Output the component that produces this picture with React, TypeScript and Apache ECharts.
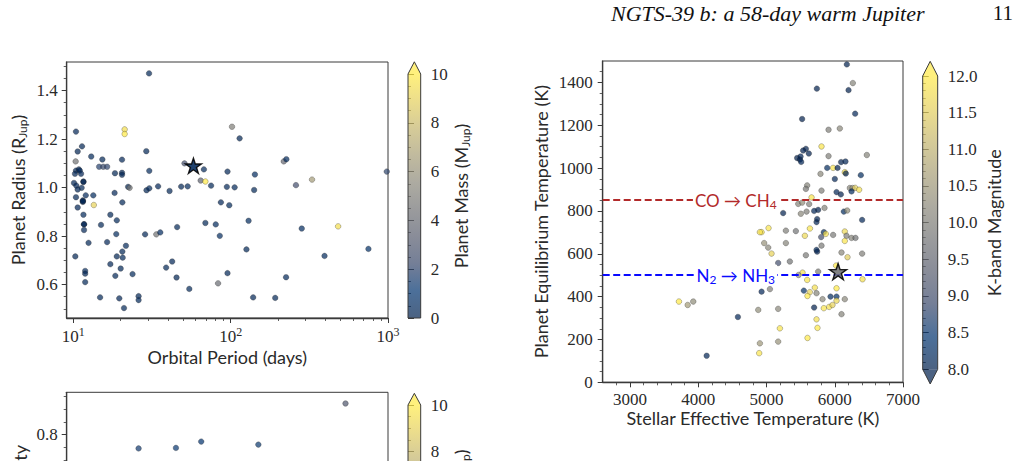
import React, { useEffect, useRef } from "react";
import * as echarts from "echarts";

// ---- Data -------------------------------------------------------------
// Warm-giant comparison sample: [orbital period (d), radius (R_Jup), mass (M_Jup)]
const periodRadiusMass: [number, number, number][] = [
  [30.3, 1.471, 0.3], [10.4, 1.231, 0.25], [21.2, 1.24, 9.5], [21.2, 1.221, 10.5],
  [29.1, 1.15, 0.3], [10.66, 1.149, 0.2], [11.36, 1.17, 0.2], [13.0, 1.128, 0.4],
  [10.35, 1.108, 4.5], [15.3, 1.116, 0.3], [14.6, 1.086, 1.8], [15.5, 1.086, 2.2],
  [16.4, 1.086, 2.0], [20.4, 1.115, 0.25], [10.4, 1.07, 0.3], [10.85, 1.075, 0.15],
  [11.0, 1.07, 0.35], [10.25, 1.057, 0.2], [11.2, 1.057, 0.25], [18.4, 1.059, 0.2],
  [20.4, 1.061, 0.3], [20.4, 1.053, 0.15], [30.4, 1.069, 0.45], [50.9, 1.1, 2.5],
  [67.6, 1.075, 0.4], [95.5, 1.066, 0.3], [114, 1.203, 0.2], [102, 1.251, 5.0],
  [10.1, 1.019, 0.2], [11.6, 1.025, 0.1], [11.6, 1.023, 0.05], [10.45, 1.008, 0.25],
  [11.3, 0.999, 0.3], [10.66, 0.992, 0.2], [10.4, 0.96, 0.2], [12.0, 0.968, 0.35],
  [13.4, 0.968, 0.5], [22.3, 1.003, 0.3], [22.8, 0.999, 4.5], [29.2, 0.989, 0.3],
  [30.4, 0.997, 0.4], [34.6, 1.005, 0.25], [40.9, 0.986, 0.3], [48.5, 1.004, 0.2],
  [53.3, 1.005, 0.35], [18.3, 0.978, 0.25], [64.5, 1.029, 3.5], [69.1, 1.025, 10.0],
  [75.1, 1.008, 0.3], [94.6, 1.003, 0.3], [106, 1.001, 0.4], [142.6, 1.054, 0.55],
  [217.6, 1.108, 3.8], [226, 1.117, 0.45], [982, 1.066, 2.0], [141, 0.99, 0.3],
  [260, 1.01, 2.5], [329, 1.033, 6.5], [11.5, 0.947, 0.1], [11.5, 0.941, 0.1],
  [11.5, 0.944, 0.15], [13.5, 0.928, 9.0], [10.66, 0.918, 0.25], [20.5, 0.939, 0.3],
  [11.6, 0.888, 0.4], [17.2, 0.888, 0.3], [18.9, 0.865, 0.35], [11.7, 0.848, 0.05],
  [11.7, 0.849, 0.1], [11.7, 0.825, 0.25], [15.0, 0.846, 0.3], [18.75, 0.808, 0.45],
  [28.6, 0.807, 0.3], [33.7, 0.807, 4.5], [35.7, 0.815, 0.6], [45.7, 0.837, 0.3],
  [10.3, 0.716, 0.2], [12.5, 0.772, 0.3], [16.4, 0.775, 0.25], [21.6, 0.76, 0.35],
  [20.5, 0.736, 0.3], [20.6, 0.711, 0.4], [18.9, 0.716, 0.2], [17.2, 0.684, 0.25],
  [20.0, 0.666, 0.3], [11.9, 0.656, 0.45], [11.9, 0.645, 0.2], [11.9, 0.61, 0.3],
  [18.5, 0.636, 0.3], [23.8, 0.643, 0.4], [42.5, 0.695, 0.25], [38.9, 0.67, 0.3],
  [45.3, 0.629, 0.2], [54.6, 0.582, 0.35], [14.8, 0.547, 0.3], [19.6, 0.543, 0.25],
  [26.0, 0.552, 0.3], [26.0, 0.536, 0.4], [21.0, 0.503, 0.3], [69.1, 0.854, 0.3],
  [80.4, 0.848, 0.45], [85.3, 0.801, 0.55], [86.7, 0.939, 0.25], [98.0, 0.927, 0.4],
  [83.2, 0.605, 4.0], [95.5, 0.647, 0.3], [126, 0.745, 0.3], [130, 0.863, 0.5],
  [139, 0.547, 0.25], [192, 0.545, 0.3], [225, 0.63, 0.4], [283, 0.831, 0.55],
  [482, 0.84, 9.5], [395, 0.718, 0.45], [751, 0.747, 0.8],
];

// [orbital period (d), eccentricity, mass (M_Jup)]
const periodEccMass: [number, number, number][] = [
  [26, 0.745, 1.4], [44.9, 0.747, 1.2], [65, 0.772, 1.0], [150, 0.76, 1.3], [537, 0.922, 3.0],
];

// [stellar Teff (K), planet Teq (K), K-band magnitude]
const teffTeqKmag: [number, number, number][] = [
  [3717, 377, 12.0], [3845, 361, 10.6], [3927, 377, 10.3], [4123, 124, 8.1], [4581, 305, 8.1],
  [4928, 701, 12.1], [4903, 701, 11.8], [5030, 720, 11.9], [4966, 650, 10.4], [5025, 629, 10.2],
  [5074, 601, 11.6], [5284, 708, 10.0], [5430, 706, 9.8], [5284, 650, 10.1], [5562, 684, 11.7],
  [5636, 718, 11.9], [5577, 593, 9.9], [5733, 748, 8.1], [5742, 762, 8.0], [5840, 701, 8.2],
  [5869, 693, 11.8], [5801, 678, 9.0], [5806, 638, 9.9], [5733, 618, 8.2], [5742, 610, 8.0],
  [5976, 688, 9.9], [6147, 704, 11.7], [6172, 684, 10.0], [6147, 660, 11.9], [6246, 674, 10.1],
  [6304, 674, 9.8], [6099, 606, 10.2], [6187, 584, 11.5], [6401, 601, 10.0], [6401, 758, 8.1],
  [5342, 564, 9.8], [5757, 517, 9.9], [5528, 512, 11.8], [5470, 501, 10.3], [5596, 478, 11.9],
  [6407, 481, 11.8], [4928, 423, 8.1], [5050, 435, 10.0], [5547, 428, 8.3], [5635, 421, 11.6],
  [5600, 403, 12.0], [5708, 442, 11.8], [5733, 416, 10.1], [5821, 388, 10.2], [5938, 400, 8.2],
  [6026, 439, 12.0], [6026, 400, 8.3], [6026, 381, 11.7], [6147, 388, 10.2], [5698, 349, 8.0],
  [5840, 346, 11.9], [5918, 352, 11.8], [5967, 361, 11.6], [6099, 318, 10.1], [5733, 294, 11.8],
  [5747, 254, 12.0], [5171, 343, 10.2], [4879, 338, 10.3], [5196, 252, 11.9], [5171, 190, 10.4],
  [4903, 182, 10.5], [4893, 136, 11.9], [5601, 207, 12.1], [6020, 545, 12.0], [5244, 790, 8.0],
  [5503, 787, 10.2], [5587, 797, 10.0], [5698, 800, 8.1], [5757, 805, 8.0], [5850, 814, 10.1],
  [6133, 797, 8.2], [6182, 802, 10.3], [5465, 833, 10.1], [5523, 839, 10.3], [5625, 832, 10.0],
  [5660, 863, 11.9], [6026, 888, 8.1], [6089, 877, 8.0], [6221, 907, 10.2], [6260, 907, 10.4],
  [6299, 908, 11.5], [6357, 899, 11.8], [6246, 891, 8.2], [5806, 895, 10.0], [5596, 919, 10.1],
  [5577, 903, 9.9], [6001, 949, 8.1], [6382, 967, 8.2], [6147, 981, 11.8], [6162, 975, 8.0],
  [5791, 973, 10.2], [6093, 1028, 8.0], [6157, 1031, 8.1], [5889, 1001, 8.2], [5976, 1001, 11.9],
  [6041, 1001, 8.0], [6470, 1061, 10.1], [5909, 1056, 10.0], [5620, 1068, 8.0], [5449, 1047, 7.9],
  [5499, 1054, 8.1], [5490, 1040, 8.0], [5508, 1029, 8.1], [5577, 1090, 8.0], [5537, 1082, 8.0],
  [5806, 1101, 11.9], [5909, 1179, 10.0], [6074, 1185, 10.2], [5522, 1229, 8.0], [6299, 1254, 8.1],
  [5738, 1371, 8.0], [6202, 1364, 7.9], [6265, 1397, 10.1], [6177, 1484, 7.9], [5171, 557, 9.0],
];

// NGTS-39 b
const ngts39bPeriodRadiusMass: [number, number, number] = [58.0, 1.09, 0.4];
const ngts39bTeffTeqKmag: [number, number, number] = [6049, 517, 9.8];

// Chemical transition temperatures (K) and where their labels sit along Teff
const coCh4Teq = 850;
const n2Nh3Teq = 500;
const transitionLabelTeff = 4550;

// Axis ranges and tick values
const periodRange = [9.08, 1000];
const periodMajorTicks = [10, 100, 1000];
const periodMinorTicks = [20, 30, 40, 50, 60, 70, 80, 90, 200, 300, 400, 500, 600, 700, 800, 900];
const radiusRange = [0.462, 1.518];
const radiusTicks = [0.6, 0.8, 1.0, 1.2, 1.4];
const eccRange = [-0.046, 0.966];
const eccTicks = [0, 0.2, 0.4, 0.6, 0.8];
const teffRange = [2600, 7000];
const teffTicks = [3000, 4000, 5000, 6000, 7000];
const teqRange = [0, 1500];
const teqTicks = [0, 200, 400, 600, 800, 1000, 1200, 1400];
const massRange = [0, 10];
const kmagRange = [8, 12];

// ---- Styling ----------------------------------------------------------
const SERIF = '"Liberation Serif", "Times New Roman", serif';
const SANS = 'Lato, "Liberation Sans", "DejaVu Sans", sans-serif';
const INK = "#2a2a2a";
const FRAME = "#3a3a3a";
const RED = "#b22a2a";
const BLUE = "#0a0aff";
const ALPHA = 0.7;

// cividis sampled at 10 evenly spaced points
const CIVIDIS = ["#00204d", "#00336f", "#39486b", "#575c6d", "#707173", "#8a8779", "#a69d75", "#c4b56c", "#e4cf5b", "#ffea46"];

function hexToRgb(h: string) {
  return [parseInt(h.slice(1, 3), 16), parseInt(h.slice(3, 5), 16), parseInt(h.slice(5, 7), 16)];
}
function cividis(t: number) {
  const c = Math.max(0, Math.min(1, t)) * (CIVIDIS.length - 1);
  const i = Math.min(CIVIDIS.length - 2, Math.floor(c));
  const f = c - i;
  const a = hexToRgb(CIVIDIS[i]);
  const b = hexToRgb(CIVIDIS[i + 1]);
  const m = a.map((v, k) => Math.round(v + (b[k] - v) * f));
  return `rgb(${m[0]},${m[1]},${m[2]})`;
}

const STAR =
  "path://M0,-1 L0.2245,-0.309 L0.951,-0.309 L0.363,0.118 L0.588,0.809 L0,0.382 L-0.588,0.809 L-0.363,0.118 L-0.951,-0.309 L-0.2245,-0.309 Z";

const plainNumber = (v: number) => String(v);
const tickLabel = { fontFamily: SERIF, fontSize: 17, color: INK };
const axisLine = { show: true, lineStyle: { color: FRAME, width: 1.3 } };
const majorTick = { show: true, length: 5, lineStyle: { color: FRAME, width: 1 } };
const minorTickStyle = (splitNumber: number) => ({
  show: true,
  splitNumber,
  length: 3,
  lineStyle: { color: FRAME, width: 0.8 },
});
const nameStyle = {
  fontFamily: SANS,
  fontSize: 18,
  color: INK,
  rich: { sub: { fontFamily: SANS, fontSize: 12, color: INK, padding: [9, 0, 0, 0] } },
};
const logLabelFormatter = (v: number) => `{b|10}{p|${Math.round(Math.log10(v))}}`;
const logLabelRich = {
  b: { fontFamily: SERIF, fontSize: 17, color: INK },
  p: { fontFamily: SERIF, fontSize: 12, color: INK, padding: [0, 0, 9, 0] },
};

// Colorbar drawn on its own small cartesian grid so it follows that grid's value axis
function colorbarSeries(xIndex: number, yIndex: number, vmin: number, vmax: number, extendLow: boolean) {
  return {
    type: "custom",
    xAxisIndex: xIndex,
    yAxisIndex: yIndex,
    silent: true,
    clip: false,
    data: [[0, vmin]],
    renderItem: (_params: any, api: any) => {
      const a = api.coord([0, vmax]);
      const b = api.coord([1, vmin]);
      const x0 = a[0];
      const x1 = b[0];
      const yTop = a[1];
      const yBot = b[1];
      const ext = (yBot - yTop) * 0.05;
      const mid = (x0 + x1) / 2;
      const stops = CIVIDIS.map((c, i) => ({ offset: 1 - i / (CIVIDIS.length - 1), color: c })).reverse();
      const children: any[] = [
        {
          type: "rect",
          shape: { x: x0, y: yTop, width: x1 - x0, height: yBot - yTop },
          style: { fill: new echarts.graphic.LinearGradient(0, 0, 0, 1, stops), opacity: ALPHA },
        },
        {
          type: "polygon",
          shape: { points: [[x0, yTop], [x1, yTop], [mid, yTop - ext]] },
          style: { fill: cividis(1), opacity: ALPHA },
        },
      ];
      const outline: number[][] = [[x0, yBot], [x0, yTop], [mid, yTop - ext], [x1, yTop], [x1, yBot]];
      if (extendLow) {
        children.push({
          type: "polygon",
          shape: { points: [[x0, yBot], [x1, yBot], [mid, yBot + ext]] },
          style: { fill: cividis(0), opacity: ALPHA },
        });
        outline.push([mid, yBot + ext]);
      }
      children.push({
        type: "polygon",
        shape: { points: outline },
        style: { fill: "none", stroke: FRAME, lineWidth: 1 },
      });
      return { type: "group", children };
    },
  };
}

function scatterSeries(xi: number, yi: number, data: number[][], vmin: number, vmax: number) {
  return {
    type: "scatter",
    xAxisIndex: xi,
    yAxisIndex: yi,
    data,
    symbolSize: 5.6,
    silent: true,
    itemStyle: {
      color: (p: any) => cividis((p.value[2] - vmin) / (vmax - vmin)),
      opacity: ALPHA,
      borderColor: "#222",
      borderWidth: 0.4,
    },
  };
}

function starSeries(xi: number, yi: number, point: number[], vmin: number, vmax: number, size: number) {
  return {
    type: "scatter",
    xAxisIndex: xi,
    yAxisIndex: yi,
    z: 6,
    data: [point],
    symbol: STAR,
    symbolKeepAspect: true,
    symbolSize: size,
    silent: true,
    itemStyle: {
      color: cividis((point[2] - vmin) / (vmax - vmin)),
      opacity: 0.88,
      borderColor: "#000",
      borderWidth: 1.4,
    },
  };
}

// Dashed transition line across the panel
function transitionLine(level: number, color: string) {
  return {
    type: "line",
    xAxisIndex: 4,
    yAxisIndex: 2,
    z: 3,
    silent: true,
    data: [],
    markLine: {
      silent: true,
      symbol: "none",
      data: [{ yAxis: level }],
      lineStyle: { color, type: [7, 3.5], width: 2, opacity: 1 },
      label: { show: false },
    },
  };
}

// Boxed label sitting on top of a transition line
function transitionLabel(level: number, color: string, text: string) {
  return {
    type: "scatter",
    xAxisIndex: 4,
    yAxisIndex: 2,
    z: 20,
    silent: true,
    symbolSize: 0,
    itemStyle: { opacity: 1 },
    data: [[transitionLabelTeff, level]],
    label: {
      show: true,
      position: "inside",
      formatter: text,
      backgroundColor: "#fff",
      opacity: 1,
      padding: [0, 2, 0, 2],
      rich: {
        t: { fontFamily: SANS, fontSize: 17, color },
        s: { fontFamily: SANS, fontSize: 12, color, padding: [9, 0, 0, 0] },
      },
    },
  };
}

function massColorbarAxis(gridIndex: number) {
  return {
    gridIndex,
    type: "value",
    position: "right",
    min: massRange[0],
    max: massRange[1],
    interval: 2,
    axisLine: { show: false },
    axisTick: { ...majorTick, length: 6 },
    minorTick: minorTickStyle(4),
    axisLabel: { ...tickLabel, formatter: plainNumber, margin: 10 },
    splitLine: { show: false },
    name: "Planet Mass (M{sub|Jup})",
    nameLocation: "middle",
    nameRotate: 90,
    nameGap: 30,
    nameTextStyle: nameStyle,
  };
}

function periodAxis(gridIndex: number) {
  return {
    gridIndex,
    type: "log",
    logBase: 10,
    position: "bottom",
    min: periodRange[0],
    max: periodRange[1],
    axisLine,
    axisTick: { ...majorTick, customValues: periodMajorTicks },
    axisLabel: { customValues: periodMajorTicks, formatter: logLabelFormatter, rich: logLabelRich, margin: 8 },
    splitLine: { show: false },
    name: "Orbital Period (days)",
    nameLocation: "middle",
    nameGap: 30,
    nameTextStyle: nameStyle,
  };
}

function periodMinorAxis(gridIndex: number) {
  return {
    gridIndex,
    type: "log",
    logBase: 10,
    position: "bottom",
    min: periodRange[0],
    max: periodRange[1],
    axisLine: { show: false },
    axisTick: { show: true, length: 3, lineStyle: { color: FRAME, width: 0.8 }, customValues: periodMinorTicks },
    axisLabel: { show: false },
    splitLine: { show: false },
  };
}

function buildOption() {
  const gridFrame = { show: true, borderColor: FRAME, borderWidth: 1, backgroundColor: "transparent" };
  return {
    animation: false,
    backgroundColor: "#fff",
    grid: [
      { left: 66.7, top: 62, width: 321.3, height: 256, ...gridFrame },
      { left: 66.7, top: 392.3, width: 321.3, height: 257, ...gridFrame },
      { left: 602.7, top: 61, width: 300.3, height: 321.3, ...gridFrame },
      { left: 408, top: 74, width: 12.7, height: 244, show: false },
      { left: 408, top: 405, width: 12.7, height: 233.5, show: false },
      { left: 922.7, top: 76, width: 15, height: 293.3, show: false },
    ],
    xAxis: [
      periodAxis(0),
      periodMinorAxis(0),
      periodAxis(1),
      periodMinorAxis(1),
      {
        gridIndex: 2,
        type: "value",
        position: "bottom",
        min: teffRange[0],
        max: teffRange[1],
        axisLine,
        axisTick: { ...majorTick, customValues: teffTicks },
        minorTick: minorTickStyle(5),
        axisLabel: { ...tickLabel, customValues: teffTicks, formatter: plainNumber, margin: 9 },
        splitLine: { show: false },
        name: "Stellar Effective Temperature (K)",
        nameLocation: "middle",
        nameGap: 27,
        nameTextStyle: nameStyle,
      },
      { gridIndex: 3, type: "value", min: 0, max: 1, show: false },
      { gridIndex: 4, type: "value", min: 0, max: 1, show: false },
      { gridIndex: 5, type: "value", min: 0, max: 1, show: false },
    ],
    yAxis: [
      {
        gridIndex: 0,
        type: "value",
        min: radiusRange[0],
        max: radiusRange[1],
        axisLine,
        axisTick: { ...majorTick, customValues: radiusTicks },
        minorTick: minorTickStyle(4),
        axisLabel: { ...tickLabel, customValues: radiusTicks, formatter: (v: number) => v.toFixed(1), margin: 9 },
        splitLine: { show: false },
        name: "Planet Radius (R{sub|Jup})",
        nameLocation: "middle",
        nameRotate: 90,
        nameGap: 38,
        nameTextStyle: nameStyle,
      },
      {
        gridIndex: 1,
        type: "value",
        min: eccRange[0],
        max: eccRange[1],
        axisLine,
        axisTick: { ...majorTick, customValues: eccTicks },
        minorTick: minorTickStyle(4),
        axisLabel: { ...tickLabel, customValues: eccTicks, formatter: (v: number) => v.toFixed(1), margin: 9 },
        splitLine: { show: false },
        name: "Orbital Eccentricity",
        nameLocation: "middle",
        nameRotate: 90,
        nameGap: 38,
        nameTextStyle: nameStyle,
      },
      {
        gridIndex: 2,
        type: "value",
        min: teqRange[0],
        max: teqRange[1],
        interval: 200,
        axisLine,
        axisTick: { ...majorTick, customValues: teqTicks },
        minorTick: minorTickStyle(4),
        axisLabel: { ...tickLabel, customValues: teqTicks, formatter: plainNumber, margin: 10 },
        splitLine: { show: false },
        name: "Planet Equilibrium Temperature (K)",
        nameLocation: "middle",
        nameRotate: 90,
        nameGap: 53,
        nameTextStyle: nameStyle,
      },
      massColorbarAxis(3),
      massColorbarAxis(4),
      {
        gridIndex: 5,
        type: "value",
        position: "right",
        min: kmagRange[0],
        max: kmagRange[1],
        interval: 0.5,
        axisLine: { show: false },
        axisTick: { ...majorTick, length: 6 },
        minorTick: minorTickStyle(5),
        axisLabel: { ...tickLabel, formatter: (v: number) => v.toFixed(1), margin: 10 },
        splitLine: { show: false },
        name: "K-band Magnitude",
        nameLocation: "middle",
        nameRotate: 90,
        nameGap: 47,
        nameTextStyle: nameStyle,
      },
    ],
    series: [
      scatterSeries(0, 0, periodRadiusMass, massRange[0], massRange[1]),
      starSeries(0, 0, ngts39bPeriodRadiusMass, massRange[0], massRange[1], 16),
      scatterSeries(2, 1, periodEccMass, massRange[0], massRange[1]),
      transitionLine(coCh4Teq, RED),
      transitionLine(n2Nh3Teq, BLUE),
      scatterSeries(4, 2, teffTeqKmag, kmagRange[0], kmagRange[1]),
      starSeries(4, 2, ngts39bTeffTeqKmag, kmagRange[0], kmagRange[1], 17),
      transitionLabel(coCh4Teq, RED, "{t|CO → CH}{s|4}"),
      transitionLabel(n2Nh3Teq, BLUE, "{t|N}{s|2}{t| → NH}{s|3}"),
      colorbarSeries(5, 3, massRange[0], massRange[1], false),
      colorbarSeries(6, 4, massRange[0], massRange[1], false),
      colorbarSeries(7, 5, kmagRange[0], kmagRange[1], true),
    ],
    graphic: [
      {
        type: "text",
        x: 611,
        y: 2,
        style: {
          text: "NGTS-39 b: a 58-day warm Jupiter",
          fontFamily: SERIF,
          fontStyle: "italic",
          fontSize: 22,
          fill: "#111",
          verticalAlign: "top",
        },
      },
      {
        type: "text",
        x: 1013,
        y: 2,
        style: { text: "11", fontFamily: SERIF, fontSize: 21, fill: "#111", align: "right", verticalAlign: "top" },
      },
    ],
  };
}

export default function App() {
  const ref = useRef<HTMLDivElement>(null);
  useEffect(() => {
    const chart = echarts.init(ref.current as HTMLDivElement, null, { renderer: "svg" });
    chart.setOption(buildOption() as any);
    return () => chart.dispose();
  }, []);
  // The figure continues below the visible page area; the frame crops it.
  return (
    <div style={{ position: "absolute", left: 0, top: 0, width: 1015, height: 461, overflow: "hidden", background: "#fff" }}>
      <div ref={ref} style={{ width: 1015, height: 720 }} />
    </div>
  );
}
